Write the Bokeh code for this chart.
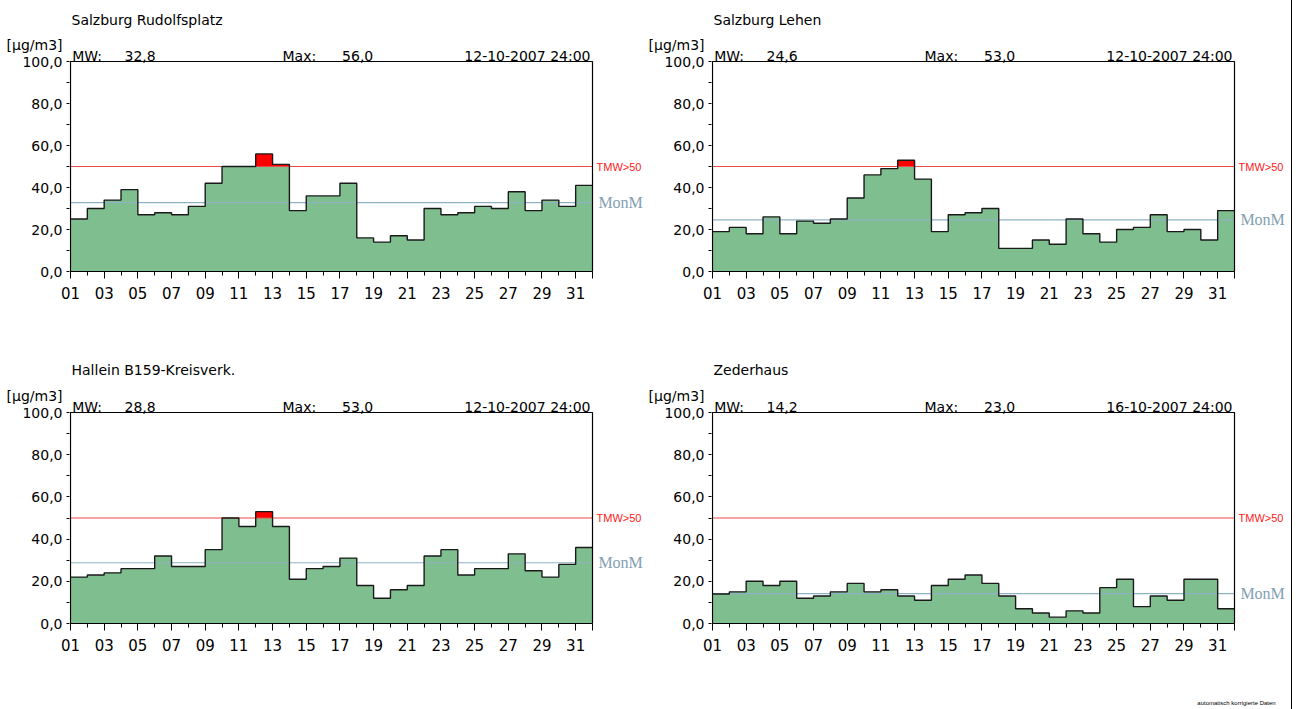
from bokeh.plotting import figure
from bokeh.models import Range1d, FixedTicker, LinearAxis, Spacer
from bokeh.layouts import row, column
from bokeh.core.properties import value
from bokeh.embed import file_html
from bokeh.resources import INLINE

# ---------------- data ----------------
days = list(range(1, 32))
stations = ["Salzburg Rudolfsplatz", "Salzburg Lehen", "Hallein B159-Kreisverk.", "Zederhaus"]
rudolfsplatz = [25, 30, 34, 39, 27, 28, 27, 31, 42, 50, 50, 56, 51, 29, 36, 36, 42, 16, 14, 17, 15, 30, 27, 28, 31, 30, 38, 29, 34, 31, 41]
lehen = [19, 21, 18, 26, 18, 24, 23, 25, 35, 46, 49, 53, 44, 19, 27, 28, 30, 11, 11, 15, 13, 25, 18, 14, 20, 21, 27, 19, 20, 15, 29]
hallein = [22, 23, 24, 26, 26, 32, 27, 27, 35, 50, 46, 53, 46, 21, 26, 27, 31, 18, 12, 16, 18, 32, 35, 23, 26, 26, 33, 25, 22, 28, 36]
zederhaus = [14, 15, 20, 18, 20, 12, 13, 15, 19, 15, 16, 13, 11, 18, 21, 23, 19, 13, 7, 5, 3, 6, 5, 17, 21, 8, 13, 11, 21, 21, 7]
series = [rudolfsplatz, lehen, hallein, zederhaus]
mw_values = [32.8, 24.6, 28.8, 14.2]
max_values = [56.0, 53.0, 53.0, 23.0]
max_dates = ["12-10-2007 24:00", "12-10-2007 24:00", "12-10-2007 24:00", "16-10-2007 24:00"]
limit_value = 50
limit_label = "TMW>50"
mean_label = "MonM"
unit_label = "[µg/m3]"
y_ticks = [0, 20, 40, 60, 80, 100]
y_minor = [0, 10, 20, 30, 40, 50, 60, 70, 80, 90, 100]
x_label_days = list(range(1, 32, 2))
footnote = "automatisch korrigierte Daten"

# ---------------- style / layout ----------------
GREEN = "#7fbf8f"
RED_FILL = "#ff0000"
LIMIT_COLOR = "#f04848"
MEAN_COLOR = "#8fb2c2"
MONM_COLOR = "#7fa0b2"
FONT = "DejaVu Sans"
PPD = 522 / 31          # pixels per day


def comma(v):
    return f"{v:.1f}".replace(".", ",")


def make_panel(idx, width, height, left, b_bottom, ppv):
    vals = series[idx]
    xs = days + [days[-1] + 1]
    ys = vals + [vals[-1]]
    y_lo, y_hi = y_ticks[0], y_ticks[-1]
    frame_w = width - left
    frame_h = height - b_bottom
    x0 = days[0] - 1 / PPD
    p = figure(width=width, height=height,
               x_range=Range1d(x0, x0 + frame_w / PPD),
               y_range=Range1d(y_lo, frame_h / ppv),
               output_backend="svg", toolbar_location=None, title_location=None,
               min_border_left=left, min_border_right=0, min_border_top=0,
               min_border_bottom=b_bottom)
    p.xgrid.visible = False
    p.ygrid.visible = False
    p.outline_line_color = None
    p.background_fill_color = "white"
    p.border_fill_color = "white"

    # filled step area
    p.varea_step(x=xs, y1=[y_lo] * len(xs), y2=ys, step_mode="after", fill_color=GREEN)
    p.varea_step(x=xs, y1=[limit_value] * len(xs), y2=[max(v, limit_value) for v in ys],
                 step_mode="after", fill_color=RED_FILL)
    # reference lines
    p.segment(x0=[xs[0]], x1=[xs[-1]], y0=[mw_values[idx]], y1=[mw_values[idx]],
              line_color=MEAN_COLOR, line_width=1.2)
    p.segment(x0=[xs[0]], x1=[xs[-1]], y0=[limit_value], y1=[limit_value],
              line_color=LIMIT_COLOR, line_width=1.2)
    # outline of the steps
    p.step(x=xs, y=ys, mode="after", line_color="#1a1a1a", line_width=1.4)
    # plot box (left / top / right)
    p.line(x=[xs[0], xs[0], xs[-1], xs[-1]], y=[y_lo, y_hi, y_hi, y_lo],
           line_color="black", line_width=1.2)

    # x axis
    xa = p.xaxis[0]
    xa.bounds = (xs[0], xs[-1])
    xa.ticker = FixedTicker(ticks=x_label_days + [xs[-1]], minor_ticks=xs)
    ov = {d: f"{d:02d}" for d in x_label_days}
    ov[xs[-1]] = ""
    xa.major_label_overrides = ov
    xa.major_tick_out = 7
    xa.major_tick_in = 0
    xa.minor_tick_out = 4
    xa.minor_tick_in = 0
    xa.major_label_standoff = 8
    xa.major_label_text_font = FONT
    xa.major_label_text_font_size = "15px"
    xa.major_label_text_color = "black"
    xa.axis_line_color = "black"
    xa.major_tick_line_color = "black"
    xa.minor_tick_line_color = "black"

    # y axis (unit label carried as a tick label above the top)
    unit_pos = 107.8
    ya = p.yaxis[0]
    ya.bounds = (y_lo, unit_pos)
    ya.ticker = FixedTicker(ticks=y_ticks + [unit_pos], minor_ticks=y_minor)
    yov = {t: comma(t) for t in y_ticks}
    yov[unit_pos] = unit_label
    ya.major_label_overrides = yov
    ya.axis_line_color = None
    ya.major_tick_out = 0
    ya.major_tick_in = 0
    ya.minor_tick_out = 3
    ya.minor_tick_in = 0
    ya.minor_tick_line_color = "black"
    ya.major_label_standoff = 4
    ya.major_label_text_font = FONT
    ya.major_label_text_font_size = "14px"
    ya.major_label_text_color = "black"

    def txt(x, y, text, align="left", baseline="middle", size="14px", color="black", font=FONT):
        p.text(x=[x], y=[y], text=[text], text_align=align, text_baseline=baseline,
               text_font=value(font), text_font_size=value(size), text_color=color)

    hdr_y = 102.8
    txt(1.06, 120.0, stations[idx])
    txt(1.10, hdr_y, "MW:")
    txt(4.21, hdr_y, comma(mw_values[idx]))
    txt(13.59, hdr_y, "Max:")
    txt(17.13, hdr_y, comma(max_values[idx]))
    txt(31.88, hdr_y, max_dates[idx], align="right")
    txt(32.24, limit_value, limit_label, size="11px", color="#ff2020", font="Liberation Sans")
    txt(32.35, mw_values[idx], mean_label, baseline="alphabetic", size="16px",
        color=MONM_COLOR, font="Liberation Serif")

    if idx == 3:
        fx = 32.12
        fa = LinearAxis(ticker=FixedTicker(ticks=[fx], minor_ticks=[]),
                        major_label_overrides={fx: footnote})
        fa.axis_line_color = None
        fa.major_tick_line_color = None
        fa.minor_tick_line_color = None
        fa.major_label_standoff = 40
        fa.major_label_text_font = "Liberation Sans"
        fa.major_label_text_font_size = "6px"
        fa.major_label_text_color = "black"
        p.add_layout(fa, "below")
    return p


p1 = make_panel(0, 643, 355, 69, 84, 2.10)
p2 = make_panel(1, 648, 355, 68, 84, 2.10)
p3 = make_panel(2, 643, 354, 69, 86, 2.11)
p4 = make_panel(3, 648, 354, 68, 86, 2.11)

edge = Spacer(width=1, height=709, styles={"background-color": "black"})
layout = row(column(row(p1, p2), row(p3, p4)), edge)
open("out.html", "w").write(file_html(layout, INLINE))
